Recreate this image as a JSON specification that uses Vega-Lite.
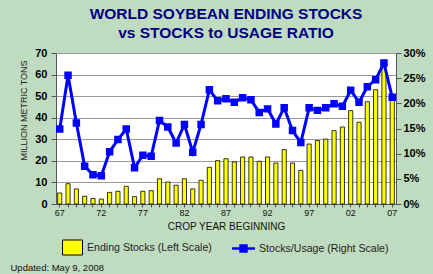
{
  "$schema": "https://vega.github.io/schema/vega-lite/v6.json",
  "autosize": {"type": "none"},
  "padding": {"left": 56, "top": 53, "right": 37, "bottom": 70},
  "width": 340,
  "height": 151,
  "background": "#C0DCC0",
  "title": {
    "text": ["WORLD SOYBEAN ENDING STOCKS", "vs STOCKS to USAGE RATIO"],
    "font": "Liberation Sans",
    "fontSize": 15.5,
    "fontWeight": "bold",
    "color": "#000080",
    "anchor": "middle",
    "lineHeight": 19,
    "offset": 6
  },
  "config": {
    "font": "Liberation Sans",
    "view": {"fill": "white", "stroke": null}
  },
  "data": {
    "values": [
      {"year": 1967, "stocks": 5.1, "ratio": 14.9},
      {"year": 1968, "stocks": 9.4, "ratio": 25.6},
      {"year": 1969, "stocks": 7.0, "ratio": 16.1},
      {"year": 1970, "stocks": 3.6, "ratio": 7.5},
      {"year": 1971, "stocks": 2.6, "ratio": 5.8},
      {"year": 1972, "stocks": 2.3, "ratio": 5.6},
      {"year": 1973, "stocks": 5.4, "ratio": 10.4},
      {"year": 1974, "stocks": 5.9, "ratio": 12.8},
      {"year": 1975, "stocks": 8.2, "ratio": 14.9},
      {"year": 1976, "stocks": 3.4, "ratio": 7.2},
      {"year": 1977, "stocks": 5.9, "ratio": 9.7},
      {"year": 1978, "stocks": 6.2, "ratio": 9.5},
      {"year": 1979, "stocks": 11.7, "ratio": 16.6},
      {"year": 1980, "stocks": 10.2, "ratio": 15.3},
      {"year": 1981, "stocks": 8.7, "ratio": 12.1},
      {"year": 1982, "stocks": 11.7, "ratio": 15.8},
      {"year": 1983, "stocks": 7.0, "ratio": 10.3},
      {"year": 1984, "stocks": 11.0, "ratio": 15.8},
      {"year": 1985, "stocks": 17.0, "ratio": 22.7},
      {"year": 1986, "stocks": 20.1, "ratio": 20.5},
      {"year": 1987, "stocks": 21.0, "ratio": 20.9},
      {"year": 1988, "stocks": 19.5, "ratio": 20.2},
      {"year": 1989, "stocks": 21.8, "ratio": 21.1},
      {"year": 1990, "stocks": 21.8, "ratio": 20.7},
      {"year": 1991, "stocks": 19.8, "ratio": 18.2},
      {"year": 1992, "stocks": 21.8, "ratio": 18.9},
      {"year": 1993, "stocks": 19.0, "ratio": 15.9},
      {"year": 1994, "stocks": 25.2, "ratio": 19.1},
      {"year": 1995, "stocks": 19.0, "ratio": 14.6},
      {"year": 1996, "stocks": 15.6, "ratio": 12.2},
      {"year": 1997, "stocks": 27.8, "ratio": 19.1},
      {"year": 1998, "stocks": 29.4, "ratio": 18.6},
      {"year": 1999, "stocks": 30.1, "ratio": 19.1},
      {"year": 2000, "stocks": 34.0, "ratio": 19.9},
      {"year": 2001, "stocks": 35.7, "ratio": 19.4},
      {"year": 2002, "stocks": 43.3, "ratio": 22.6},
      {"year": 2003, "stocks": 37.9, "ratio": 20.2},
      {"year": 2004, "stocks": 47.4, "ratio": 23.3},
      {"year": 2005, "stocks": 53.0, "ratio": 24.7},
      {"year": 2006, "stocks": 64.6, "ratio": 28.0},
      {"year": 2007, "stocks": 49.5, "ratio": 21.2}
    ]
  },
  "encoding": {
    "x": {
      "field": "year",
      "type": "ordinal",
      "scale": {"paddingInner": 0.5, "paddingOuter": 0.2},
      "axis": {
        "title": "CROP YEAR BEGINNING",
        "titleFontSize": 10,
        "titleFontWeight": "normal",
        "titleColor": "#111",
        "titlePadding": 4,
        "labelAngle": 0,
        "labelOverlap": false,
        "labelFontSize": 9,
        "labelColor": "#111",
        "labelPadding": 1,
        "labelExpr": "(datum.value - 1967) % 5 == 0 ? substring(datum.label, 2) : ''",
        "tickSize": 3,
        "tickColor": "#555",
        "domainColor": "#555"
      }
    }
  },
  "layer": [
    {
      "mark": {"type": "bar", "stroke": "#000", "strokeWidth": 0.8},
      "encoding": {
        "y": {
          "field": "stocks",
          "type": "quantitative",
          "scale": {"domain": [0, 70]},
          "axis": {
            "title": "MILLION METRIC TONS",
            "titleFontSize": 9,
            "titleFontWeight": "normal",
            "titleColor": "#222",
            "titlePadding": 6,
            "titleY": 57,
            "values": [0, 10, 20, 30, 40, 50, 60, 70],
            "labelFontSize": 11,
            "labelFontWeight": "bold",
            "labelColor": "#000",
            "labelPadding": 4,
            "tickSize": 5,
            "tickColor": "#555",
            "domainColor": "#555",
            "grid": true,
            "gridColor": "#999"
          }
        },
        "fill": {
          "datum": "Ending Stocks (Left Scale)",
          "type": "nominal",
          "scale": {"range": ["#FFFF00"]},
          "legend": {
            "title": null,
            "orient": "bottom",
            "direction": "horizontal",
            "offset": 0,
            "padding": 6,
            "labelFontSize": 10.6,
            "labelColor": "#222",
            "labelOffset": 4,
            "symbolType": "M-1,-0.75H1V0.75H-1Z",
            "symbolSize": 400,
            "symbolStrokeColor": "#000",
            "symbolStrokeWidth": 1
          }
        }
      }
    },
    {
      "mark": {
        "type": "line",
        "strokeWidth": 3,
        "point": {"shape": "square", "filled": true, "size": 30, "color": "#0000FF"}
      },
      "encoding": {
        "y": {
          "field": "ratio",
          "type": "quantitative",
          "scale": {"domain": [0, 30]},
          "axis": {
            "orient": "right",
            "title": "Updated: May 9, 2008",
            "titleAngle": 0,
            "titleAlign": "left",
            "titleBaseline": "middle",
            "titleX": -386,
            "titleY": 214,
            "titleFontSize": 9.5,
            "titleFontWeight": "normal",
            "titleColor": "#111",
            "values": [0, 5, 10, 15, 20, 25, 30],
            "labelExpr": "datum.value + '%'",
            "labelFontSize": 11,
            "labelFontWeight": "bold",
            "labelColor": "#000",
            "labelPadding": 2,
            "tickSize": 5,
            "tickColor": "#555",
            "domainColor": "#555",
            "grid": false
          }
        },
        "stroke": {
          "datum": "Stocks/Usage (Right Scale)",
          "type": "nominal",
          "scale": {"range": ["#0000FF"]},
          "legend": {
            "title": null,
            "orient": "bottom",
            "direction": "horizontal",
            "offset": 0,
            "padding": 6,
            "labelFontSize": 10.6,
            "labelColor": "#222",
            "labelOffset": 4,
            "symbolType": "M-1.15,0H1.15M-0.3,-0.3H0.3V0.3H-0.3Z",
            "symbolSize": 400,
            "symbolStrokeWidth": 2.5,
            "symbolFillColor": "#0000FF"
          }
        }
      }
    }
  ],
  "resolve": {"scale": {"y": "independent"}}
}
